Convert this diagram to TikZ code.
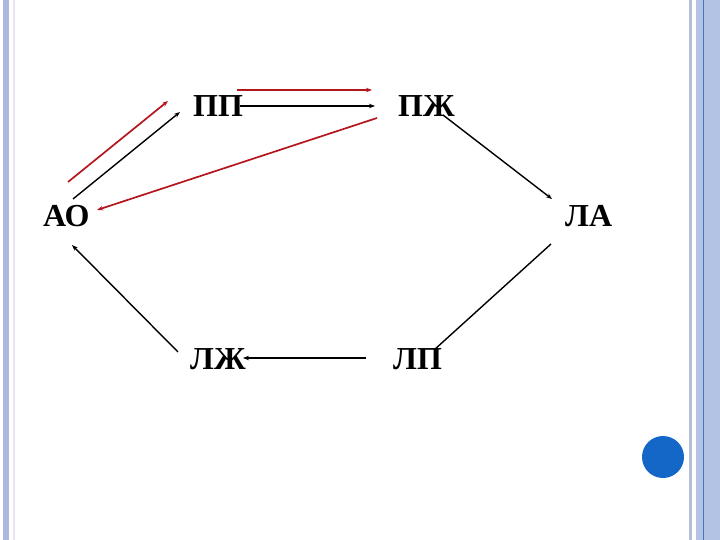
\documentclass[tikz,border=0pt]{standalone}
\usepackage{fontspec}
\setmainfont{Liberation Serif}
\usepackage{tikz}
\usetikzlibrary{arrows.meta}
\definecolor{barblue}{RGB}{171,185,223}
\definecolor{paleline}{RGB}{232,228,244}
\definecolor{greyblue}{RGB}{180,192,216}
\definecolor{lightblue}{RGB}{179,195,227}
\definecolor{deepblue}{RGB}{74,114,184}
\definecolor{dotblue}{RGB}{20,103,198}
\definecolor{arrred}{RGB}{180,22,30}
\tikzset{
  lbl/.style={anchor=base west,font={\fontsize{32pt}{38pt}\bfseries\selectfont},
    text height=22pt,text depth=0pt},
  blk/.style={black,line width=1.4pt},
  blkarr/.style={blk,-{Stealth[length=6pt,width=4.5pt]}},
  redarr/.style={arrred,line width=1.7pt,-{Stealth[length=6pt,width=4.5pt]}}}

\begin{document}
\begin{tikzpicture}[x=1pt,y=-1pt]
\tikzstyle{every node}+=[inner sep=0pt]
\useasboundingbox (0,0) rectangle (720,540);
% slide frame
\fill [barblue] (3,0) rectangle (9,540);
\draw [paleline,line width=1.5pt] (14,0) -- (14,540);
\fill [greyblue] (689,0) rectangle (692,540);
\fill [lightblue] (696,0) rectangle (720,540);
\draw [deepblue,line width=1pt] (703,0) -- (703,540);
\fill [dotblue] (663,457) circle (21);
% labels
\node [lbl] (pp) at (193,117) {ПП};
\node [lbl] (pz) at (398,117) {ПЖ};
\node [lbl] (ao) at (43,226) {АО};
\node [lbl] (la) at (565,226) {ЛА};
\node [lbl] (lz) at (190,369) {ЛЖ};
\node [lbl] (lp) at (393,369) {ЛП};
% black cycle
\draw [blkarr] ([shift={(30,-16)}]ao.west) -- ([shift={(-13,6)}]pp.west);
\draw [blkarr] ([shift={(47,0)}]pp.west) -- ([shift={(-23,0)}]pz.west);
\draw [blkarr] ([shift={(45,9)}]pz.west) -- ([shift={(-13,-16)}]la.west);
\draw [blk] ([shift={(-14,29)}]la.west) -- ([shift={(41,-8)}]lp.west);
\draw [blkarr] ([shift={(-27,0)}]lp.west) -- ([shift={(53,0)}]lz.west);
\draw [blkarr] ([shift={(-12,-6)}]lz.west) -- ([shift={(29,30)}]ao.west);
% red arrows
\draw [redarr] ([shift={(25,-33)}]ao.west) -- ([shift={(-25,-5)}]pp.west);
\draw [redarr] ([shift={(44,-16)}]pp.west) -- ([shift={(-26,-16)}]pz.west);
\draw [redarr] ([shift={(-21,12)}]pz.west) -- ([shift={(54,-5)}]ao.west);
\end{tikzpicture}
\end{document}
